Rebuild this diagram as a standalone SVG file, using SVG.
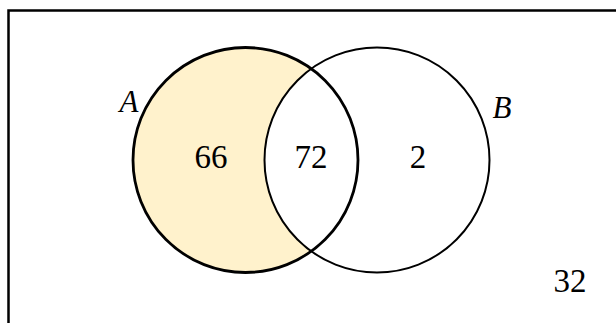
<svg xmlns="http://www.w3.org/2000/svg" width="616" height="323" viewBox="0 0 616 323">
<style>
.num{font-family:"Liberation Serif","DejaVu Serif",serif;font-size:33px;fill:#000;text-anchor:middle}
.lbl{font-family:"Liberation Serif","DejaVu Serif",serif;font-style:italic;font-size:31px;fill:#000;text-anchor:middle}
.ol{fill:none;stroke:#000}
</style>
<rect width="616" height="323" fill="#fff"/>
<rect x="8.5" y="10.5" width="620" height="330" class="ol" stroke-width="2.5"/>
<g id="setA">
<circle cx="245.5" cy="160" r="112.5" fill="#FFF2CC"/>
</g>
<g id="setB">
<circle cx="377" cy="160" r="112.5" fill="#fff" stroke="#000" stroke-width="2"/>
</g>
<g id="setA-outline">
<circle cx="245.5" cy="160" r="112.5" class="ol" stroke-width="2.8"/>
</g>
<g id="labels">
<text class="lbl" x="129" y="112">A</text>
<text class="lbl" x="502" y="118">B</text>
<text class="num" x="211" y="168">66</text>
<text class="num" x="311" y="168">72</text>
<text class="num" x="418" y="168">2</text>
<text class="num" x="570" y="292">32</text>
</g>
<g id="connectors"></g>
</svg>
